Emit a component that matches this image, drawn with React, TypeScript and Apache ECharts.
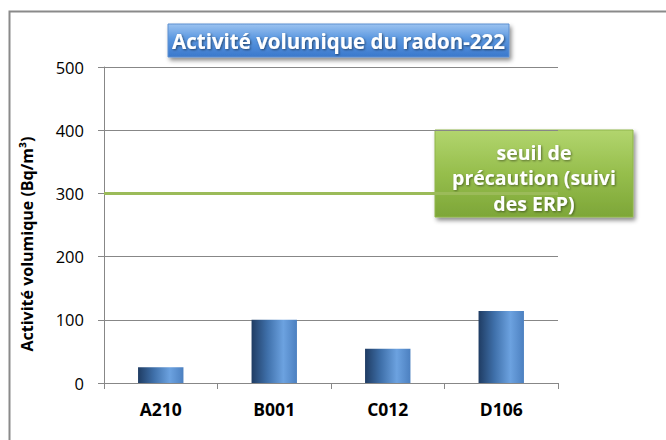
import React, { useEffect, useRef } from "react";
import * as echarts from "echarts";

const categories = ["A210", "B001", "C012", "D106"];
const activityValues = [25, 100, 54, 114];
const yTicks = { min: 0, max: 500, interval: 100 };
const thresholdValue = 300;
const titleText = "Activité volumique du radon-222";
const yAxisTitle = "Activité volumique (Bq/m³)";
const thresholdLines = ["seuil de", "précaution (suivi", "des ERP)"];

const FONT = "'Open Sans', 'Noto Sans', sans-serif";

export default function App() {
  const ref = useRef<HTMLDivElement>(null);
  useEffect(() => {
    if (!ref.current) return;
    const chart = echarts.init(ref.current, undefined, { renderer: "svg" });
    const barGradient = new echarts.graphic.LinearGradient(0, 0, 1, 0, [
      { offset: 0, color: "#1f3c63" },
      { offset: 0.35, color: "#3f70aa" },
      { offset: 0.7, color: "#6ca2e0" },
      { offset: 1, color: "#4c80c0" },
    ]);
    chart.setOption({
      animation: false,
      backgroundColor: "#ffffff",
      textStyle: { fontFamily: FONT },
      grid: { left: 104, right: 108, top: 67, bottom: 57 },
      xAxis: {
        type: "category",
        data: categories,
        axisLine: { show: true, lineStyle: { color: "#878787", width: 1 } },
        axisTick: { show: true, length: 6, alignWithLabel: false, lineStyle: { color: "#878787" } },
        axisLabel: { color: "#000", fontWeight: "bold", fontSize: 17.5, margin: 17, fontFamily: FONT },
        splitLine: { show: false },
      },
      yAxis: {
        type: "value",
        min: yTicks.min,
        max: yTicks.max,
        interval: yTicks.interval,
        axisLine: { show: true, lineStyle: { color: "#878787", width: 1 } },
        axisTick: { show: true, inside: false, length: 6, lineStyle: { color: "#878787" } },
        axisLabel: { color: "#000", fontSize: 16.5, margin: 20, fontFamily: FONT },
        splitLine: { show: true, lineStyle: { color: "#878787", width: 1 } },
      },
      series: [
        {
          type: "bar",
          data: activityValues,
          barWidth: "40%",
          itemStyle: { color: barGradient },
          markLine: {
            silent: true,
            symbol: "none",
            label: { show: false },
            lineStyle: { color: "#9bbb59", width: 3, type: "solid" },
            data: [{ yAxis: thresholdValue }],
          },
        },
      ],
      graphic: [
        {
          type: "rect",
          left: 7,
          top: 9,
          shape: { width: 700, height: 500 },
          style: { fill: "none", stroke: "#8a8a8a", lineWidth: 2 },
          z: 1,
        },
        {
          type: "text",
          x: 27,
          y: 244,
          rotation: Math.PI / 2,
          style: {
            text: yAxisTitle,
            fill: "#000",
            font: `bold 16px ${FONT}`,
            align: "center",
            verticalAlign: "middle",
          },
        },
        {
          type: "group",
          x: 168,
          y: 24,
          z: 100,
          children: [
            {
              type: "rect",
              shape: { width: 341, height: 33 },
              style: {
                fill: new echarts.graphic.LinearGradient(0, 0, 0, 1, [
                  { offset: 0, color: "#9cc3f0" },
                  { offset: 0.45, color: "#5a97e0" },
                  { offset: 1, color: "#3a78cc" },
                ]),
                stroke: "#5d8fd0",
                lineWidth: 1,
                shadowColor: "rgba(0,0,0,0.45)",
                shadowBlur: 4,
                shadowOffsetX: 2,
                shadowOffsetY: 3,
              },
            },
            {
              type: "text",
              x: 170.5,
              y: 17,
              style: {
                text: titleText,
                fill: "#ffffff",
                font: `bold 20.5px ${FONT}`,
                align: "center",
                verticalAlign: "middle",
                textShadowColor: "rgba(0,0,0,0.5)",
                textShadowBlur: 2,
                textShadowOffsetX: 1,
                textShadowOffsetY: 1,
              },
            },
          ],
        },
        {
          type: "group",
          x: 435,
          y: 130,
          z: 100,
          children: [
            {
              type: "rect",
              shape: { width: 198, height: 87 },
              style: {
                fill: new echarts.graphic.LinearGradient(0, 0, 0, 1, [
                  { offset: 0, color: "#b2d56e" },
                  { offset: 0.5, color: "#96be4c" },
                  { offset: 1, color: "#7da638" },
                ]),
                stroke: "#8fb54a",
                lineWidth: 1,
                shadowColor: "rgba(0,0,0,0.45)",
                shadowBlur: 4,
                shadowOffsetX: 2,
                shadowOffsetY: 3,
              },
            },
            ...thresholdLines.map((t, i) => ({
              type: "text",
              x: 99,
              y: 22 + i * 25.5,
              style: {
                text: t,
                fill: "#ffffff",
                font: `bold 19.5px ${FONT}`,
                align: "center",
                verticalAlign: "middle",
                textShadowColor: "rgba(0,0,0,0.45)",
                textShadowBlur: 2,
                textShadowOffsetX: 1,
                textShadowOffsetY: 1,
              },
            })),
          ],
        },
      ],
    });
    return () => chart.dispose();
  }, []);
  return (
    <div
      ref={ref}
      style={{ position: "fixed", left: 0, top: 0, width: 666, height: 440 }}
    />
  );
}
